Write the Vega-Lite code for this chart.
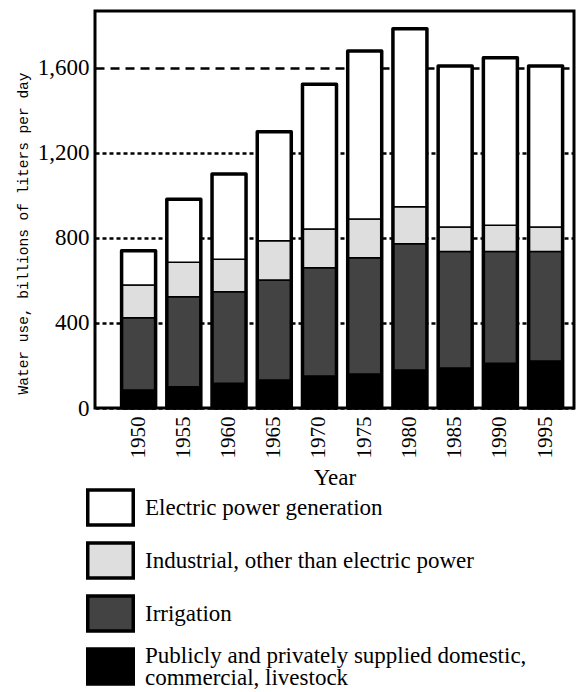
{
  "$schema": "https://vega.github.io/schema/vega-lite/v6.json",
  "autosize": {"type": "none"},
  "width": 479,
  "height": 397,
  "padding": {"left": 95, "top": 11, "right": 10, "bottom": 284},
  "background": "white",
  "config": {
    "view": {"stroke": "black", "strokeWidth": 3},
    "axis": {"domain": false, "ticks": false, "labelColor": "black", "titleColor": "black", "titleFontWeight": "normal"},
    "legend": {"labelColor": "black"}
  },
  "data": {
    "values": [
      {"year": "1950", "category": "Publicly and privately supplied domestic, commercial, livestock", "value": 85},
      {"year": "1950", "category": "Irrigation", "value": 340},
      {"year": "1950", "category": "Industrial, other than electric power", "value": 154},
      {"year": "1950", "category": "Electric power generation", "value": 161},
      {"year": "1955", "category": "Publicly and privately supplied domestic, commercial, livestock", "value": 100},
      {"year": "1955", "category": "Irrigation", "value": 424},
      {"year": "1955", "category": "Industrial, other than electric power", "value": 162},
      {"year": "1955", "category": "Electric power generation", "value": 296},
      {"year": "1960", "category": "Publicly and privately supplied domestic, commercial, livestock", "value": 116},
      {"year": "1960", "category": "Irrigation", "value": 431},
      {"year": "1960", "category": "Industrial, other than electric power", "value": 153},
      {"year": "1960", "category": "Electric power generation", "value": 401},
      {"year": "1965", "category": "Publicly and privately supplied domestic, commercial, livestock", "value": 132},
      {"year": "1965", "category": "Irrigation", "value": 470},
      {"year": "1965", "category": "Industrial, other than electric power", "value": 185},
      {"year": "1965", "category": "Electric power generation", "value": 513},
      {"year": "1970", "category": "Publicly and privately supplied domestic, commercial, livestock", "value": 151},
      {"year": "1970", "category": "Irrigation", "value": 509},
      {"year": "1970", "category": "Industrial, other than electric power", "value": 182},
      {"year": "1970", "category": "Electric power generation", "value": 681},
      {"year": "1975", "category": "Publicly and privately supplied domestic, commercial, livestock", "value": 160},
      {"year": "1975", "category": "Irrigation", "value": 547},
      {"year": "1975", "category": "Industrial, other than electric power", "value": 182},
      {"year": "1975", "category": "Electric power generation", "value": 791},
      {"year": "1980", "category": "Publicly and privately supplied domestic, commercial, livestock", "value": 179},
      {"year": "1980", "category": "Irrigation", "value": 594},
      {"year": "1980", "category": "Industrial, other than electric power", "value": 174},
      {"year": "1980", "category": "Electric power generation", "value": 837},
      {"year": "1985", "category": "Publicly and privately supplied domestic, commercial, livestock", "value": 188},
      {"year": "1985", "category": "Irrigation", "value": 548},
      {"year": "1985", "category": "Industrial, other than electric power", "value": 116},
      {"year": "1985", "category": "Electric power generation", "value": 757},
      {"year": "1990", "category": "Publicly and privately supplied domestic, commercial, livestock", "value": 210},
      {"year": "1990", "category": "Irrigation", "value": 526},
      {"year": "1990", "category": "Industrial, other than electric power", "value": 124},
      {"year": "1990", "category": "Electric power generation", "value": 788},
      {"year": "1995", "category": "Publicly and privately supplied domestic, commercial, livestock", "value": 221},
      {"year": "1995", "category": "Irrigation", "value": 515},
      {"year": "1995", "category": "Industrial, other than electric power", "value": 116},
      {"year": "1995", "category": "Electric power generation", "value": 757}
    ]
  },
  "encoding": {
    "x": {
      "field": "year",
      "type": "nominal",
      "scale": {"paddingInner": 0.248, "paddingOuter": 0.42, "align": 0.7},
      "axis": {
        "title": "Year",
        "labelAngle": -90,
        "labelFont": "Liberation Serif",
        "labelFontSize": 21,
        "labelPadding": 8,
        "titleFont": "Liberation Serif",
        "titleFontSize": 23,
        "titlePadding": 8
      }
    }
  },
  "layer": [
    {
      "mark": {"type": "bar", "stroke": "black", "strokeWidth": 1.5},
      "encoding": {
        "y": {
          "field": "value",
          "type": "quantitative",
          "stack": "zero",
          "scale": {"domain": [0, 1868], "nice": false},
          "axis": {
            "title": "Water use, billions of liters per day",
            "values": [0, 400, 800, 1200, 1600],
            "format": ",d",
            "grid": true,
            "gridColor": "black",
            "gridWidth": 2.5,
            "gridOpacity": 1,
            "gridDash": {"condition": {"test": "datum.value === 1600", "value": [9, 6]}, "value": [4, 3]},
            "labelFont": "Liberation Serif",
            "labelFontSize": 23,
            "labelPadding": 6,
            "titleFont": "Liberation Mono",
            "titleFontSize": 14.5,
            "titleX": -72,
            "titleY": 222,
            "titleBaseline": "middle"
          }
        },
        "fill": {
          "field": "category",
          "type": "nominal",
          "scale": {
            "domain": ["Electric power generation", "Industrial, other than electric power", "Irrigation", "Publicly and privately supplied domestic, commercial, livestock"],
            "range": ["#ffffff", "#dedede", "#434343", "#000000"]
          },
          "legend": {
            "title": null,
            "orient": "none",
            "legendX": -4,
            "legendY": 477,
            "padding": 0,
            "symbolType": "M-1.3,-1L1.3,-1L1.3,1L-1.3,1Z",
            "symbolSize": 1225,
            "symbolStrokeColor": "black",
            "symbolStrokeWidth": 3.5,
            "symbolOpacity": 1,
            "rowPadding": 4,
            "labelOffset": 15,
            "labelFont": "Liberation Serif",
            "labelFontSize": 23,
            "labelLimit": 500,
            "labelExpr": "indexof(datum.label, 'Publicly') === 0 ? ['Publicly and privately supplied domestic,', 'commercial, livestock'] : datum.label",
            "encode": {
              "labels": {
                "update": {
                  "lineHeight": {"value": 22},
                  "dy": {"signal": "datum.index === 3 ? -11 : 0"}
                }
              }
            }
          }
        },
        "order": {"field": "category", "sort": "descending"}
      }
    },
    {
      "mark": {"type": "bar", "fill": "transparent", "stroke": "black", "strokeWidth": 3.5, "strokeJoin": "round"},
      "encoding": {
        "y": {"aggregate": "sum", "field": "value", "type": "quantitative", "stack": null}
      }
    }
  ]
}
